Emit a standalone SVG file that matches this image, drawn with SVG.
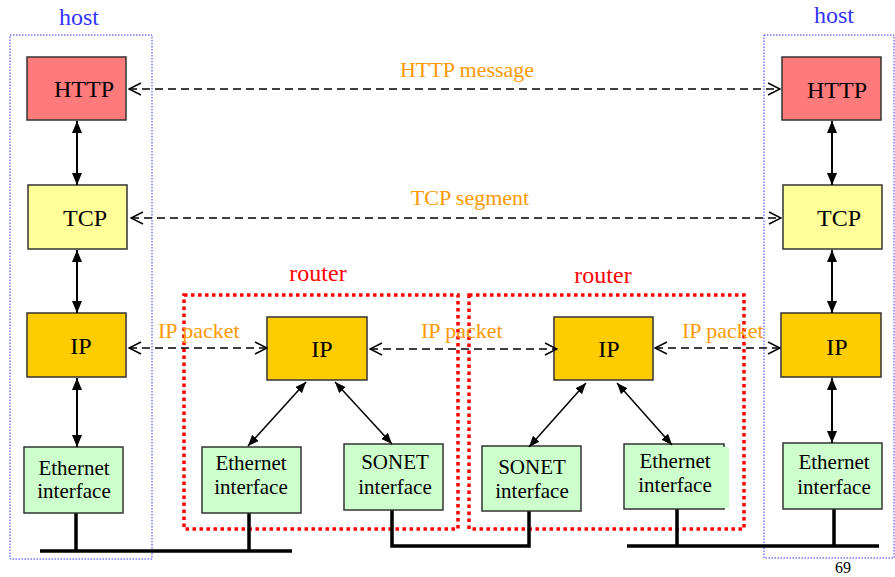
<svg xmlns="http://www.w3.org/2000/svg" width="895" height="577" viewBox="0 0 895 577">
  <style>
    text { font-family: 'Liberation Serif', 'DejaVu Serif', 'Noto Serif', serif; }
    .box { stroke: #333333; stroke-width: 1.5; }
    .http { fill: #FF7B7B; }
    .tcp { fill: #FFFF99; }
    .ip { fill: #FFCC00; }
    .iface { fill: #CCFFCC; }
    .lbl { font-size: 24px; fill: #000; text-anchor: middle; }
    .lbl2 { font-size: 21px; fill: #000; text-anchor: middle; }
    .msg { font-size: 22px; fill: #FF9900; }
    .host { font-size: 24px; fill: #3333FF; text-anchor: middle; }
    .router { font-size: 24px; fill: #FF0000; text-anchor: middle; }
    .page { font-size: 16px; fill: #000; text-anchor: middle; }
    .hostframe { fill: none; stroke: #3333FF; stroke-width: 1; stroke-dasharray: 1.5 1.5; }
    .routerframe { fill: none; stroke: #FF0000; stroke-width: 3.5; stroke-dasharray: 3.5 3.5; }
    .stack { stroke: #000; stroke-width: 2; fill: none; marker-start: url(#solid); marker-end: url(#solid); }
    .diag { stroke: #000; stroke-width: 1.5; fill: none; marker-start: url(#solidSm); marker-end: url(#solidSm); }
    .peer { stroke: #000; stroke-width: 1.5; fill: none; stroke-dasharray: 8 5; marker-start: url(#open); marker-end: url(#open); }
    .wire { stroke: #000; stroke-width: 3.5; fill: none; }
  </style>
  <defs>
    <marker id="solid" viewBox="0 0 12 10" refX="12" refY="5" markerWidth="12" markerHeight="10" markerUnits="userSpaceOnUse" orient="auto-start-reverse">
      <path d="M0,0 L12,5 L0,10 z" fill="#000"/>
    </marker>
    <marker id="solidSm" viewBox="0 0 11 9" refX="11" refY="4.5" markerWidth="11" markerHeight="9" markerUnits="userSpaceOnUse" orient="auto-start-reverse">
      <path d="M0,0 L11,4.5 L0,9 z" fill="#000"/>
    </marker>
    <marker id="open" viewBox="-1 -1 14 14" refX="12" refY="6" markerWidth="14" markerHeight="14" markerUnits="userSpaceOnUse" orient="auto-start-reverse">
      <path d="M0,0 L12,6 L0,12" fill="none" stroke="#000" stroke-width="1.5"/>
    </marker>
  </defs>

  <!-- host and router frames -->
  <g id="host-left">
    <rect class="hostframe" x="10" y="35" width="142" height="524"/>
    <text class="host" x="79" y="25">host</text>
  </g>
  <g id="host-right">
    <rect class="hostframe" x="764" y="35" width="130" height="523"/>
    <text class="host" x="834" y="23">host</text>
  </g>
  <g id="router-left">
    <rect class="routerframe" x="184" y="295" width="274" height="234"/>
    <text class="router" x="318" y="281">router</text>
  </g>
  <g id="router-right">
    <rect class="routerframe" x="469" y="295" width="275" height="234"/>
    <text class="router" x="603" y="283">router</text>
  </g>

  <!-- physical links -->
  <g id="links">
    <path class="wire" d="M40,551 H292 M76,513 V551 M249,513 V551"/>
    <path class="wire" d="M392,510 V546 H529 V511"/>
    <path class="wire" d="M627,546 H879 M677,509 V546 M834,509 V547"/>
  </g>

  <!-- left host stack -->
  <g id="left-http"><rect class="box http" x="27" y="57" width="99" height="63"/><text class="lbl" x="84" y="97">HTTP</text></g>
  <g id="left-tcp"><rect class="box tcp" x="28" y="185" width="99" height="64"/><text class="lbl" x="85" y="226">TCP</text></g>
  <g id="left-ip"><rect class="box ip" x="27" y="313" width="99" height="64"/><text class="lbl" x="81" y="354">IP</text></g>
  <g id="left-eth"><rect class="box iface" x="24" y="447" width="99" height="66"/><text class="lbl2" x="74" y="475">Ethernet</text><text class="lbl2" x="74" y="498">interface</text></g>

  <!-- first router -->
  <g id="r1-ip"><rect class="box ip" x="267" y="317" width="100" height="63"/><text class="lbl" x="322" y="357">IP</text></g>
  <g id="r1-eth"><rect class="box iface" x="202" y="447" width="99" height="66"/><text class="lbl2" x="251" y="470">Ethernet</text><text class="lbl2" x="251" y="494">interface</text></g>
  <g id="r1-sonet"><rect class="box iface" x="344" y="444" width="99" height="66"/><text class="lbl2" x="395" y="469">SONET</text><text class="lbl2" x="395" y="494">interface</text></g>

  <!-- second router -->
  <g id="r2-ip"><rect class="box ip" x="554" y="317" width="99" height="63"/><text class="lbl" x="609" y="357">IP</text></g>
  <g id="r2-sonet"><rect class="box iface" x="482" y="446" width="99" height="65"/><text class="lbl2" x="532" y="474">SONET</text><text class="lbl2" x="532" y="498">interface</text></g>
  <g id="r2-eth"><rect class="box iface" x="624" y="444" width="100" height="65"/><rect class="iface" x="627" y="447" width="102" height="61"/><text class="lbl2" x="675" y="468">Ethernet</text><text class="lbl2" x="675" y="492">interface</text></g>

  <!-- right host stack -->
  <g id="right-http"><rect class="box http" x="782" y="57" width="99" height="63"/><text class="lbl" x="837" y="98">HTTP</text></g>
  <g id="right-tcp"><rect class="box tcp" x="783" y="185" width="99" height="64"/><text class="lbl" x="839" y="226">TCP</text></g>
  <g id="right-ip"><rect class="box ip" x="781" y="313" width="100" height="64"/><text class="lbl" x="837" y="355">IP</text></g>
  <g id="right-eth"><rect class="box iface" x="783" y="443" width="99" height="66"/><text class="lbl2" x="834" y="469">Ethernet</text><text class="lbl2" x="834" y="494">interface</text></g>

  <!-- connectors -->
  <g id="connectors">
    <line class="stack" x1="77" y1="121" x2="77" y2="185"/>
    <line class="stack" x1="77" y1="250" x2="77" y2="313"/>
    <line class="stack" x1="77" y1="378" x2="77" y2="447"/>
    <line class="stack" x1="832" y1="121" x2="832" y2="185"/>
    <line class="stack" x1="832" y1="250" x2="832" y2="313"/>
    <line class="stack" x1="832" y1="378" x2="832" y2="443"/>

    <line class="diag" x1="306" y1="382" x2="248" y2="446"/>
    <line class="diag" x1="335" y1="382" x2="392" y2="444"/>
    <line class="diag" x1="586" y1="383" x2="529" y2="447"/>
    <line class="diag" x1="617" y1="383" x2="672" y2="445"/>

    <line class="peer" x1="129" y1="89" x2="780" y2="89"/>
    <line class="peer" x1="131" y1="218" x2="781" y2="218"/>
    <line class="peer" x1="129" y1="348" x2="267" y2="348"/>
    <line class="peer" x1="370" y1="349" x2="557" y2="349"/>
    <line class="peer" x1="655" y1="348" x2="780" y2="348"/>

    <text class="msg" x="467" y="77" text-anchor="middle">HTTP message</text>
    <text class="msg" x="470" y="205" text-anchor="middle">TCP segment</text>
    <text class="msg" x="158" y="338">IP packet</text>
    <text class="msg" x="421" y="338">IP packet</text>
    <text class="msg" x="682" y="338">IP packet</text>
  </g>

  <text class="page" x="843" y="573">69</text>
</svg>
